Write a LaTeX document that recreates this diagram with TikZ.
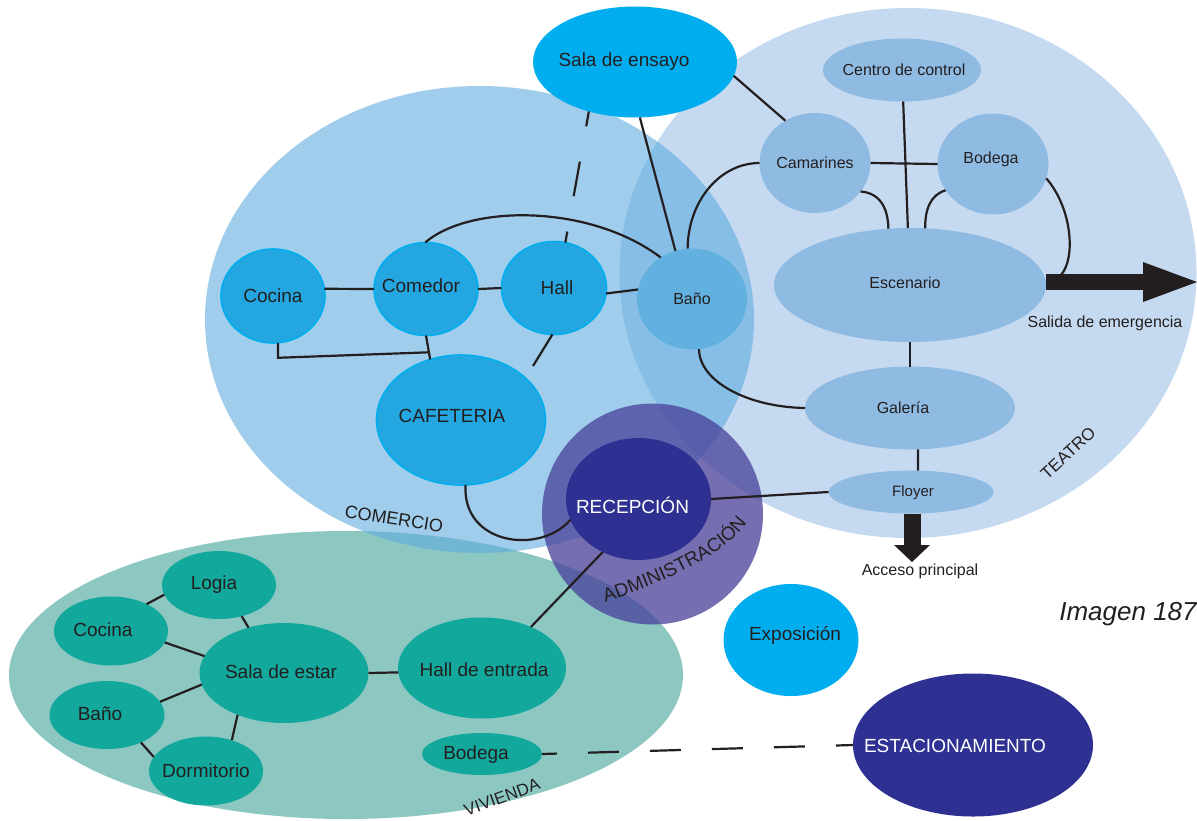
\documentclass[tikz,border=0pt]{standalone}
\usepackage{fontspec}
\setmainfont{Liberation Sans}
\usetikzlibrary{shapes.geometric,arrows.meta,calc,decorations.text}

\definecolor{ink}{RGB}{35,31,32}
\definecolor{teaReg}{RGB}{197,218,240}
\definecolor{comReg}{RGB}{95,172,223}
\definecolor{vivReg}{RGB}{140,199,194}
\definecolor{admReg}{RGB}{71,64,153}
\definecolor{navy}{RGB}{46,49,146}
\definecolor{comFill}{RGB}{36,167,224}
\definecolor{cyanB}{RGB}{0,174,239}
\definecolor{banoFill}{RGB}{98,176,224}
\definecolor{teaFill}{RGB}{143,187,227}
\definecolor{vivFill}{RGB}{18,168,155}

\newcommand\zt[3]{\makebox[0pt]{\hspace*{#1pt}\hspace*{#1pt}\raisebox{\dimexpr #2pt-0.33em\relax}[0pt][0pt]{#3}}}

\tikzset{
  fs/.style={font=\fontsize{#1}{#1}\selectfont},
  sz/.style 2 args={minimum width=#1pt, minimum height=#2pt},
  base/.style={ellipse, inner sep=0pt, outer sep=0pt, text=ink},
  region/.style={ellipse, inner sep=0pt, outer sep=0pt, draw=none},
  cn/.style={base, fill=comFill, draw=cyanB, line width=1.6pt, fs=19},
  bn/.style={base, fill=banoFill, fs=16},
  en/.style={base, fill=cyanB, fs=19},
  tn/.style={base, fill=teaFill, fs=16},
  vn/.style={base, fill=vivFill, fs=19},
  dn/.style={base, fill=navy, text=white, fs=19},
  link/.style={draw=ink, line width=2.2pt},
  ensdash/.style={link, dash pattern=on 35pt off 36pt, dash phase=20pt},
  longdash/.style={link, dash pattern=on 31pt off 31pt, dash phase=16pt},
  emgarrow/.style={draw=ink, line width=16pt, -{Triangle[length=54pt, width=40pt, line width=0pt]}},
  accarrow/.style={draw=ink, line width=17pt, -{Triangle[length=17pt, width=36pt, line width=0pt]}},
  lbl/.style={text=ink, inner sep=0pt},
}

\begin{document}
\begin{tikzpicture}[x=1pt, y=-1pt]
\useasboundingbox (0,0) rectangle (1197,820);
\fill[white] (0,0) rectangle (1197,820);

% regions
\node[region, fill=teaReg, sz={577}{530}] (teatro) at (908,273) {};
\node[region, fill=vivReg, sz={674}{288}] (vivienda) at (346,675) {};
\node[region, fill=comReg, fill opacity=0.6, sz={549}{467}] (comercio) at (479.5,319.5) {};
\node[region, fill=admReg, fill opacity=0.75, sz={221}{221}] (admin) at (652.5,514) {};

% comercio nodes
\node[cn, sz={104}{94}] (cocC) at (273,296) {\zt{0}{0}{Cocina}};
\node[cn, sz={104}{93}] (comed) at (426,289) {\zt{-5}{3}{Comedor}};
\node[cn, sz={105}{93}] (hallC) at (554,288) {\zt{3}{0}{Hall}};
\node[cn, sz={169}{130}] (cafe) at (461,420) {\zt{-9}{4}{CAFETERIA}};
\node[bn, sz={110}{101}] (banoC) at (692,299) {\zt{0}{0}{Baño}};
\node[en, sz={204}{111}] (ens) at (635,62) {\zt{-11}{2}{Sala de ensayo}};

% teatro nodes
\node[tn, sz={158}{63}] (ctrl) at (902,70) {\zt{2}{0}{Centro de control}};
\node[tn, sz={111}{100}] (cam) at (815,163) {\zt{0}{0}{Camarines}};
\node[tn, sz={111}{101}] (bod) at (993,164) {\zt{-2}{6}{Bodega}};
\node[tn, sz={272}{114}] (esc) at (910,285) {\zt{-5}{2}{Escenario}};
\node[tn, sz={210}{83}] (gal) at (910,408) {\zt{-7}{0}{Galería}};
\node[tn, sz={165}{43}, fs=15] (floy) at (911,492) {\zt{2}{0}{Floyer}};

% admin / others
\node[dn, sz={145}{122}] (recep) at (638.5,499) {\zt{-6}{-8}{RECEPCIÓN}};
\node[en, sz={135}{112}] (expo) at (791,640) {\zt{4}{6}{Exposición}};
\node[dn, sz={240}{143}] (estac) at (973,745) {\zt{-18}{-1}{ESTACIONAMIENTO}};

% vivienda nodes
\node[vn, sz={114}{68}] (logia) at (219,585) {\zt{-5}{2}{Logia}};
\node[vn, sz={114}{69}] (cocV) at (111,631) {\zt{-8}{1}{Cocina}};
\node[vn, sz={169}{100}] (sala) at (284,673) {\zt{-3}{1}{Sala de estar}};
\node[vn, sz={115}{68}] (banoV) at (107,715) {\zt{-7}{1}{Baño}};
\node[vn, sz={114}{69}] (dorm) at (206,771) {\zt{0}{0}{Dormitorio}};
\node[vn, sz={168}{101}] (hallV) at (482,668) {\zt{2}{-2}{Hall de entrada}};
\node[vn, sz={120}{42}] (bodV) at (482,754) {\zt{-6}{1}{Bodega}};

% comercio connectors
\draw[link] (cocC.8) -- (comed.180);
\draw[link] (comed.0) -- (hallC.180);
\draw[link] (hallC.-6) -- (banoC.170);
\draw[link] (comed.-90) -- (cafe.117);
\coordinate (j1) at ($(comed.-90)!0.7!(cafe.117)$);
\draw[link] (cocC.-84) -- ++(0,15) -- (j1);
\coordinate (hc) at (533,366);
\draw[link] (hallC.-92) -- (hc);
\draw[link] (comed.91) .. controls (470,204) and (590,204) .. (banoC.127);
\draw[ensdash] (ens.227) -- (hallC.76);
\draw[link] (ens.-85) -- (banoC.109);
\draw[link] (ens.-8) -- (cam.125);
\draw[link] (banoC.95) .. controls (688,201) and (720,163) .. (cam.180);
\draw[link] (banoC.-82) .. controls (699,381) and (747,407) .. (gal.180);

% teatro connectors
\draw[link] (cam.0) -- (bod.180);
\draw[link] (ctrl) -- (esc);
\draw[link] (cam.-32) .. controls (880,193) and (888,208) .. (esc.111);
\draw[link] (bod.209) .. controls (930,195) and (925,210) .. (esc.75);
\coordinate (bt) at (1061,275);
\draw[link] (bod.-15) .. controls (1072,208) and (1076,258) .. (bt);
\draw[link] (esc) -- (gal);
\draw[link] (gal.-79) -- (floy.72);
\draw[link] (recep.0) -- (floy.180);
\draw[link] (cafe.-86) .. controls (462,545) and (540,555) .. (recep.197);
\draw[link] (recep.236) -- (hallV.40);

% vivienda connectors
\draw[link] (cocV.37) -- (logia.190);
\draw[link] (logia.-54) -- (sala.128);
\draw[link] (cocV.-12) -- (sala.168);
\draw[link] (banoV.14) -- (sala.188);
\draw[link] (sala.222) -- (dorm.50);
\draw[link] (banoV.-39) -- (dorm.165);
\draw[link] (sala.0) -- (hallV.183);
\draw[longdash] (bodV.0) -- (estac.180);

% arrows
\coordinate (emg) at (1197,282);
\draw[emgarrow] (esc.east |- emg) -- (emg);
\coordinate (acc) at (912,562);
\draw[accarrow] (floy.south -| acc) -- (acc);

% texts
\node[lbl, fs=16] (salida) at (1105,323) {Salida de emergencia};
\node[lbl, fs=16] (acceso) at (920,571) {Acceso principal};
\node[lbl, font=\fontsize{26}{26}\selectfont\itshape] (img) at (1128,614) {Imagen 187};
\node[lbl, fs=17, rotate=43] (lteatro) at (1068,453) {TEATRO};
\node[lbl, fs=18, rotate=-9] (lcomercio) at (394,519) {COMERCIO};
\node[lbl, fs=17, rotate=20] (lvivienda) at (502,797) {VIVIENDA};
\path[decorate, decoration={text along path, text align=center,
  text={|\fontsize{19}{19}\selectfont\color{ink}|ADMINISTRACIÓN}}]
  (600,604) .. controls (666.6,582.4) and (730,552.6) .. (750,518);
\end{tikzpicture}
\end{document}
